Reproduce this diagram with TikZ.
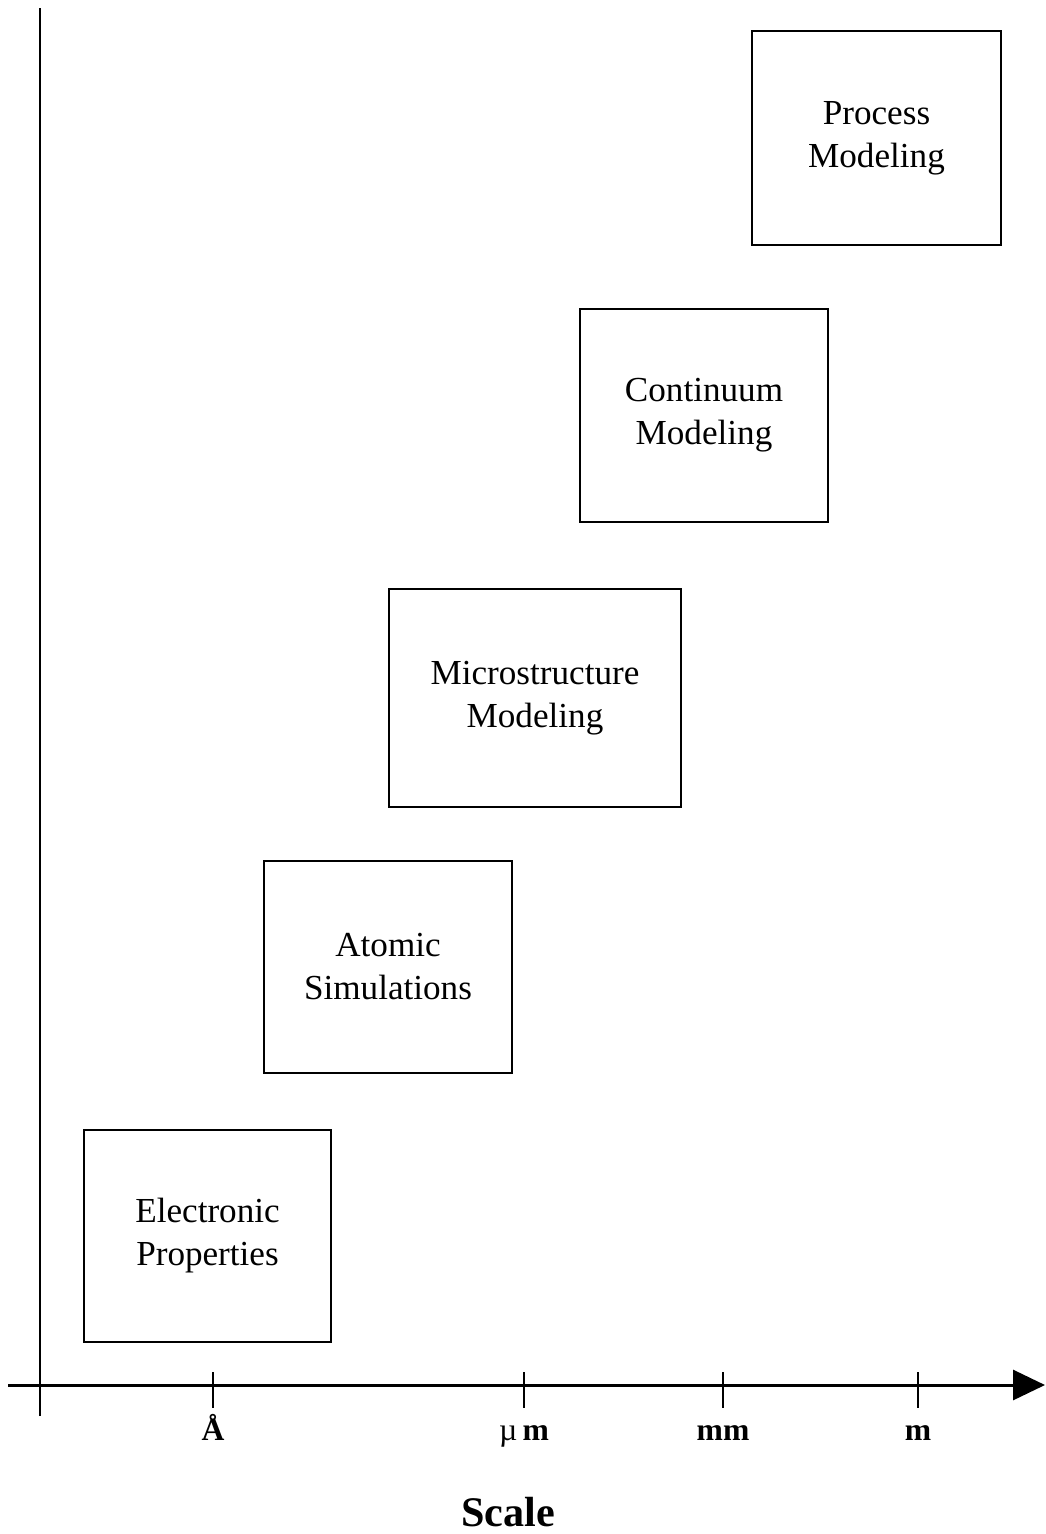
\documentclass[tikz,border=0pt]{standalone}
\usepackage{fontspec}
\setmainfont{Liberation Serif}
\usetikzlibrary{arrows.meta, positioning}

\begin{document}
\begin{tikzpicture}[x=0.02cm, y=-0.02cm,
  stagebox/.style={draw, line width=1.6pt, inner sep=0pt, align=center,
    font=\fontsize{20}{24.5}\selectfont},
  ticklabel/.style={anchor=base, font=\fontsize{18}{20}\selectfont\bfseries}]
  \useasboundingbox (0,0) rectangle (1045,1534);

  % axes
  \coordinate (ytop) at (40,8);
  \coordinate (ybot) at (40,1416);
  \coordinate (xleft) at (8,1385);
  \coordinate (xright) at (1045,1385);
  \draw[line width=1.7pt] (ybot) -- (ytop);
  \draw[line width=1.7pt, -{Triangle[length=0.64cm, width=0.6cm]}] (xleft) -- (xright);

  % ticks and units
  \foreach \x/\name/\lab in {213/ang/\AA, 524/um/{\mdseries\textmu}\,m, 723/mm/mm, 918/m/m} {
    \draw[line width=1.2pt] (\x,1372) -- (\x,1408);
    \node[ticklabel] (\name) at (\x,1440) {\lab};
  }
  \node[font=\fontsize{24}{26}\selectfont\bfseries] (scalelabel) at (508,1512) {Scale};

  % modeling stages
  \node[stagebox, minimum width=4.94cm, minimum height=4.24cm] (electronic) at (207.5,1236) {Electronic\\Properties};
  \node[stagebox, minimum width=4.96cm, minimum height=4.24cm] (atomic) at (388,967) {Atomic\\Simulations};
  \node[stagebox, minimum width=5.84cm, minimum height=4.36cm] (micro) at (535,698) {Microstructure\\Modeling};
  \node[stagebox, minimum width=4.96cm, minimum height=4.26cm] (continuum) at (704,415.5) {Continuum\\Modeling};
  \node[stagebox, minimum width=4.98cm, minimum height=4.28cm] (process) at (876.5,138) {Process\\Modeling};
\end{tikzpicture}
\end{document}
